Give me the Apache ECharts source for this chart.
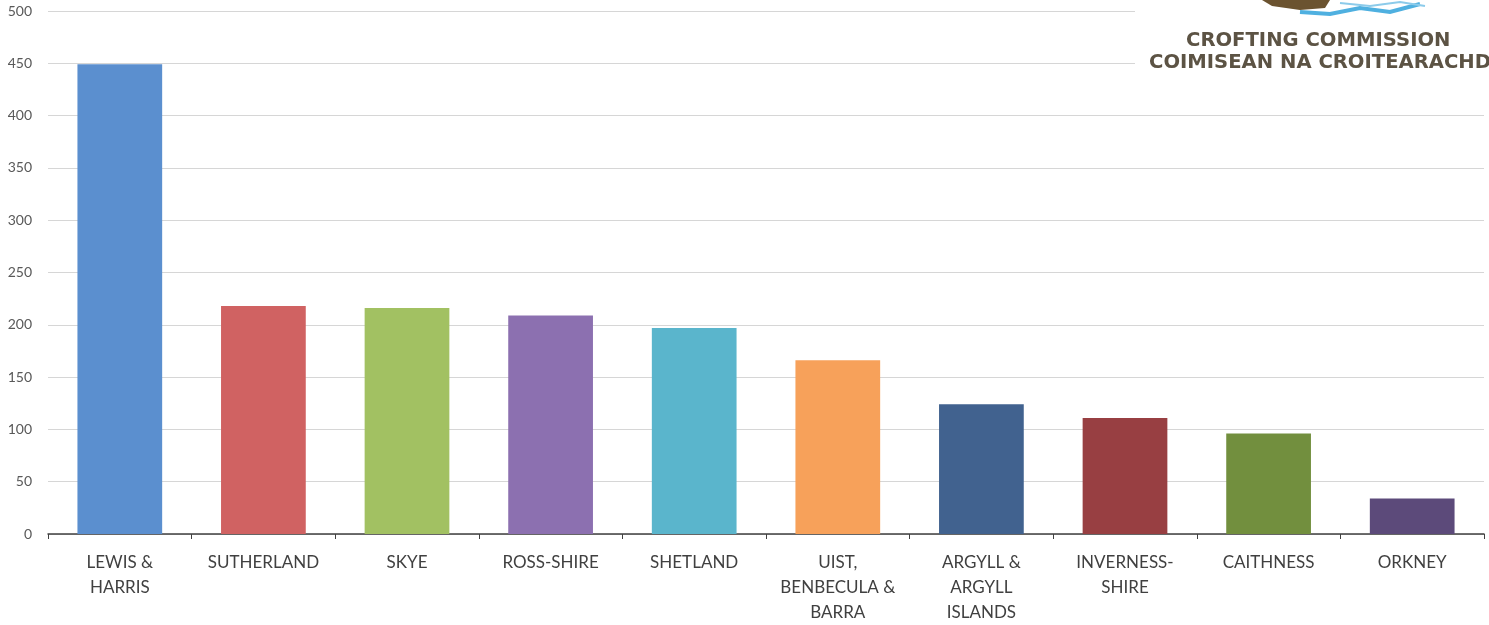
<!DOCTYPE html>
<html><head><meta charset="utf-8">
<script src="https://cdn.jsdelivr.net/npm/echarts@6/dist/echarts.min.js"></script>
<style>html,body{margin:0;padding:0;background:#fff}#c{width:1489px;height:625px}</style>
</head><body><div id="c"></div>
<script>
const categories = ["LEWIS &\nHARRIS","SUTHERLAND","SKYE","ROSS-SHIRE","SHETLAND","UIST,\nBENBECULA &\nBARRA","ARGYLL &\nARGYLL\nISLANDS","INVERNESS-\nSHIRE","CAITHNESS","ORKNEY"];
const values = [449, 218, 216, 209, 197, 166, 124, 111, 96, 34];
const barColors = ["#5b8fcf","#d06262","#a2c162","#8c70b0","#5ab5cc","#f7a15a","#41628f","#983f42","#728f3e","#5c4a7a"];
const yTicks = {min: 0, max: 500, interval: 50};
const logoLines = ["CROFTING COMMISSION", "COIMISEAN NA CROITEARACHD"];

const chart = echarts.init(document.getElementById('c'));
chart.setOption({
  animation: false,
  grid: {left: 48, right: 5, top: 11, bottom: 89, containLabel: false},
  xAxis: {
    type: 'category', data: categories,
    axisLine: {lineStyle: {color: '#404040', width: 1.5}},
    axisTick: {show: true, length: 5, lineStyle: {color: '#404040'}},
    axisLabel: {interval: 0, color: '#404040', fontSize: 17, fontFamily: 'Lato', lineHeight: 25, margin: 16}
  },
  yAxis: {
    type: 'value', min: yTicks.min, max: yTicks.max, interval: yTicks.interval,
    axisLine: {show: false}, axisTick: {show: false},
    splitLine: {lineStyle: {color: '#d6d6d6', width: 1}},
    axisLabel: {color: '#595959', fontSize: 14, fontFamily: 'Lato', margin: 16}
  },
  series: [{
    type: 'bar', data: values.map((v, i) => ({value: v, itemStyle: {color: barColors[i]}})),
    barCategoryGap: '41%'
  }],
  graphic: [
    {type: 'rect', left: 1135, top: 0, z: 100, shape: {width: 354, height: 80}, style: {fill: '#fff'}},
    {type: 'polygon', z: 101, shape: {points: [[1262,0],[1330,0],[1325,8],[1300,10],[1272,6]]}, style: {fill: '#6b5330'}},
    {type: 'polyline', z: 101, shape: {points: [[1300,12],[1330,14],[1360,8],[1390,12],[1420,4]]}, style: {stroke: '#4fb0e0', lineWidth: 4, fill: null}},
    {type: 'polyline', z: 101, shape: {points: [[1340,3],[1370,6],[1400,2],[1425,6]]}, style: {stroke: '#8ccbea', lineWidth: 2, fill: null}},
    {type: 'text', z: 102, left: 1186, top: 31, style: {text: logoLines[0], fill: '#5c5344', font: 'bold 19.6px "DejaVu Sans"'}},
    {type: 'text', z: 102, left: 1149, top: 53, style: {text: logoLines[1], fill: '#5c5344', font: 'bold 19.6px "DejaVu Sans"'}}
  ]
});
</script></body></html>
